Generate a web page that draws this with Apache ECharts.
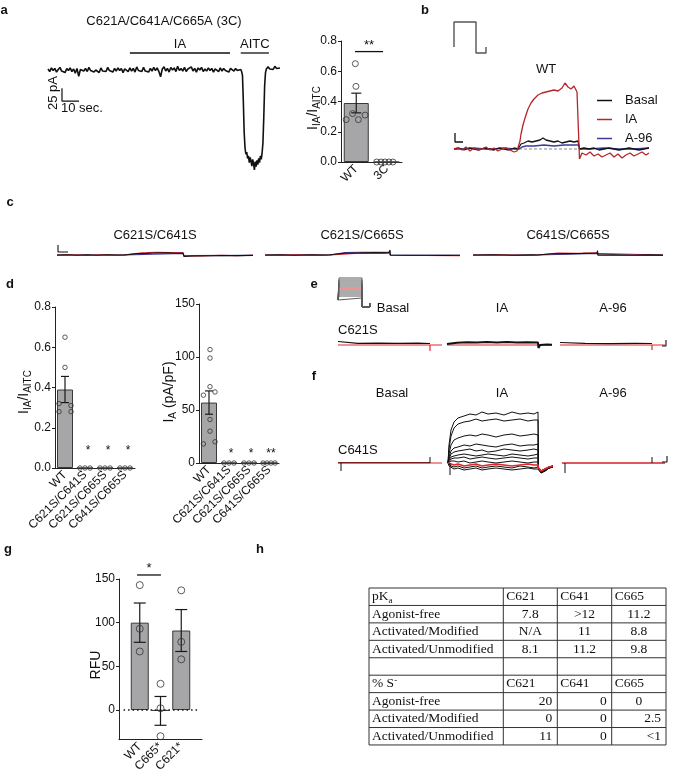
<!DOCTYPE html>
<html>
<head>
<meta charset="utf-8">
<script src="https://cdn.jsdelivr.net/npm/echarts@6/dist/echarts.min.js"></script>
<style>
  html, body { margin: 0; padding: 0; background: #fff; }
  #chart { width: 673px; height: 780px; }
</style>
</head>
<body>
<div id="chart"></div>
<script>
// ---------------- data ----------------
// a: 3C whole-cell trace (pA), baseline sampled every 1 s from t = 0
const aBaseline = [2,-3,4,-1,3,-4,1,5,-2,0,-5,3,-1,4,-3,2,-6,3,-12,1,
  4,-2,3,-3,5,-1,2,-4,0,3,-5,4,-2,1,-3,5,-1,2,-4,3,
  -2,4,-1,3,-5,2,0,-3,4,-2,3,-4,6,-1,2,-3,5,-2,1,-4,
  3,-2,5,-1,4,-3,-13,2,6,-2,3,-4,5,0,4,-3,7,-1,3,-2,
  5,-3,2,-1,6,-2,3,-4,4,0,5,-3,2,-2,4,-1,3,-4,2,1,
  -3,4,-2,3,-1,2,-4,3,0,-2,3,-1,2];
// AITC response [t (s), pA]
const aResponse = [[113,1],[113.5,-3],[114,-10],[114.5,-60],[115,-120],[115.5,-150],[116,-162],
  [116.5,-158],[117,-170],[117.5,-165],[118,-178],[118.5,-168],[119,-175],[119.5,-185],[120,-172],
  [120.5,-180],[121,-192],[121.5,-176],[122,-186],[122.5,-174],[123,-182],[123.5,-170],[124,-178],
  [124.5,-165],[125,-172],[125.5,-160],[126,-140],[126.5,-90],[127,-30],[127.5,-5],[128,2],[129,6],
  [130,2],[131,5],[132,1],[133,7],[134,3],[135,6],[136,4]];
const aStim = [
  {label: 'IA', from: 48, to: 106.7, level: 32.7},
  {label: 'AITC', from: 113, to: 129.5, level: 32.7}
];
const aScale = {t: 8.2, i: -60, dt: 10, di: 25};

// a: IA / AITC ratio
const ratioCats = ['WT', '3C'];
const ratioWT = [0.65, 0.50, 0.32, 0.28, 0.28, 0.31];
const ratio3C = [0, 0, 0, 0, 0];
const ratioMean = [0.39, 0];
const ratioSem = [0.065, 0];

// b: WT traces [t, current]
const bBasal = [[0,0],[5,1],[10,-1],[15,1],[20,0],[25,-1],[30,1],[35,0],[40,-1],[45,1],[50,0],[55,-1],
  [60,1],[64,0],[65,2],[67,5],[70,6],[74,8],[78,7],[82,8],[86,9],[89,11],[92,9],[96,8],[100,7],[104,8],
  [108,6],[112,7],[116,8],[120,7],[124,8],[125,7],[125.5,0],[130,1],[135,0],[140,1],[145,-1],[150,0],
  [155,1],[160,0],[165,-1],[170,0],[175,1],[180,0],[185,-1],[190,0],[195,1]];
const bIA = [[0,0],[4,1],[8,-1],[12,2],[16,-2],[20,1],[24,-1],[28,0],[32,2],[36,-1],[40,1],[44,-2],
  [48,0],[52,1],[56,-1],[60,-3],[63,-2],[65,0],[66,8],[67,15],[69,24],[71,31],[74,40],[77,46],[80,50],
  [84,54],[88,56],[92,57],[96,58],[100,59],[104,58],[108,61],[111,66],[114,62],[117,60],[120,63],
  [123,57],[125,55],[125.5,-10],[128,-4],[132,-6],[136,-3],[140,-7],[144,-5],[148,-8],[152,-6],
  [156,-4],[160,-8],[164,-5],[168,-9],[172,-6],[176,-4],[180,-7],[184,-5],[188,-3],[192,-6],[195,-4]];
const bA96 = [[0,0],[10,0],[20,1],[30,0],[40,0],[50,1],[60,0],[65,0],[68,2],[72,3],[80,3],[90,4],
  [100,3],[110,4],[120,4],[125,4],[125.5,0],[135,0],[150,1],[165,0],[180,0],[195,1]];
const bProtocol = [[0,6],[0,31],[22,31],[22,0],[32,0],[32,6]];

// c: double mutants
const cTraces = [
  {title: 'C621S/C641S',
   basal: [[0,0],[10,0.3],[20,-0.3],[30,0.2],[40,-0.2],[50,0.3],[60,0],[67,0],[67.5,1.3],[80,1.4],[90,1.6],[96,2],[110,2.2],[120,1.8],[126,2],[127,-1.5],[135,-1],[150,-0.7],[165,-0.5],[180,-0.6],[196,-0.4]],
   ia: [[0,-0.3],[15,0.2],[30,-0.4],[45,0.3],[60,-0.2],[67,0],[67.5,1.8],[85,2.2],[100,2.6],[115,2.4],[126,2.3],[127,-1],[145,-0.9],[165,-0.3],[180,-0.8],[196,-0.2]],
   a96: [[0,0],[67,0],[67.5,1.2],[126,1.6],[127,-0.6],[196,-0.4]]},
  {title: 'C621S/C665S',
   basal: [[0,0],[15,0.2],[30,-0.2],[45,0.3],[60,0],[65,0.2],[66,1.5],[80,1.8],[95,2],[110,2.4],[120,2.1],[124,2.5],[125,5],[125.5,0],[140,-0.3],[160,-0.2],[180,-0.4],[195,-0.3]],
   ia: [[0,-0.2],[30,0.1],[60,-0.3],[65,0],[66,1.2],[90,1.6],[124,2],[125.5,-0.5],[160,-0.5],[195,-0.6]],
   a96: [[0,0],[65,0],[66,2],[80,2.4],[95,2.6],[110,2.7],[124,2.6],[125.5,-0.2],[195,-0.2]]},
  {title: 'C641S/C665S',
   basal: [[0,0],[20,0.2],[40,-0.2],[60,0.1],[64,0],[64.5,-2],[65,1],[80,1.2],[95,1.4],[110,1.6],[120,1.8],[124,1.7],[124.5,4.5],[125,0],[140,0.2],[160,-0.2],[175,0.1],[190,-0.1]],
   ia: [[0,-0.3],[25,0.2],[50,-0.4],[64,0],[65,1.6],[85,1.9],[105,1.7],[124,2.2],[125,-0.3],[150,-0.4],[170,0.1],[190,-0.4]],
   a96: [[0,0],[64,0],[65,1],[124,1.5],[125,0],[190,0]]}
];

// d: double mutants summary
const dCats = ['WT', 'C621S/C641S', 'C621S/C665S', 'C641S/C665S'];
const dRatioPoints = [ratioWT, [0, 0, 0], [0, 0, 0], [0, 0, 0]];
const dRatioMean = [0.39, 0, 0, 0];
const dRatioSem = [0.065, 0, 0, 0];
const dRatioStars = ['', '*', '*', '*'];
const dDensityPoints = [[107, 99, 72, 64, 67, 41, 30, 18, 20], [0, 0, 0], [0, 0, 0], [0, 0, 0, 0]];
const dDensityMean = [57, 0, 0, 0];
const dDensitySem = [11, 0, 0, 0];
const dDensityStars = ['', '*', '*', '**'];

// e: C621S, voltage-step family
const eStepLevels = [10, 12, 14, 16, 18, 22, 24, 26, 28, 30];
const eStepRed = 20;
const eTraces = [
  {basal: [[0,2.5],[1,2.5],[1,0.6],[20,0.7],[40,0.9],[60,0.6],[80,0.8],[92,0.5]],
   red: [[0,-1],[92,-1],[92,-7],[92,-1],[104,-1]]},
  {basal: [[0,0],[1,1.5],[10,1.2],[20,1.8],[30,1.4],[40,2],[50,1.6],[60,1.9],[70,1.5],[80,1.7],[91,1.4],[91.5,-4],[93,-1],[100,-0.5],[105,-0.7]],
   red: [[0,-1],[91,-1],[91.5,-4],[92,-1],[105,-1]]},
  {basal: [[0,1.5],[1,0.5],[25,0.6],[50,0.4],[75,0.6],[92,0.5]],
   red: [[0,-1],[92,-1],[92,-6],[92,-1],[105,-1]]}
];

// f: C641S family under IA
const fTime = [0,1,3,6,10,16,22,28,34,40,48,56,64,72,80,86,90,90.5,93,97,101,105];
const fIAFamily = [
  [0,18,33,41,45,47,49,48,51,49,50,48,51,49,50,49,51,-6,-10,-8,-5,-4],
  [0,14,27,35,39,41,42,44,42,43,44,42,43,44,42,43,43,-6,-9,-8,-5,-4],
  [0,9,18,23,25,27,28,27,29,28,26,28,29,27,28,29,28,-6,-9,-7,-5,-3],
  [0,6,12,15,16,18,17,19,18,17,16,18,19,17,18,18,19,-5,-9,-7,-4,-3],
  [0,4,9,11,12,13,14,12,13,11,12,14,13,12,13,14,13,-5,-8,-7,-4,-3],
  [0,3,6,7,8,9,8,7,8,9,8,7,9,8,7,8,9,-5,-8,-6,-4,-3],
  [0,2,4,5,5,6,4,5,6,5,4,5,6,5,4,5,5,-5,-8,-6,-4,-3],
  [0,1,2,2,1,2,0,1,2,1,0,1,2,1,0,1,1,-5,-8,-6,-4,-3],
  [0,-2,-3,-4,-3,-5,-4,-3,-5,-4,-3,-4,-5,-3,-4,-5,-4,-6,-9,-7,-5,-4],
  [0,-3,-5,-6,-5,-7,-6,-5,-7,-6,-5,-6,-7,-6,-5,-6,-6,-7,-10,-8,-5,-4]
];
const fIARed = [0,-1,-1,-2,-1,-3,-2,-1,-3,-2,-1,-2,-3,-2,-1,-2,-2,-5,-8,-6,-4,-3];

// g: RFU
const gCats = ['', 'WT', 'C665*', 'C621*', ''];
const gPoints = [[143, 93, 67], [30, 2, -30], [137, 78, 58]];
const gMean = [100, -1, 91];
const gSem = [22.5, 16.5, 24];

// h: table
const hHeaders = ['C621', 'C641', 'C665'];
const hRows = ['Agonist-free', 'Activated/Modified', 'Activated/Unmodified'];
const hPKa = [['7.8', '>12', '11.2'], ['N/A', '11', '8.8'], ['8.1', '11.2', '9.8']];
const hThiolate = [['20', '0', '0'], ['0', '0', '2.5'], ['11', '0', '<1']];

// ---------------- layout helpers ----------------
const FONT = 'Liberation Sans, Arial, Helvetica, sans-serif';
const SERIF = 'Liberation Serif, Times New Roman, serif';
const RED = '#e3262a';
const grids = [], xAxes = [], yAxes = [], series = [], graphics = [];

function addGrid(left, top, width, height) {
  grids.push({left: left, top: top, width: width, height: height, containLabel: false, outerBoundsMode: 'none'});
  return grids.length - 1;
}
function traceAxes(gi, xr, yr) {
  const x = xAxes.push({gridIndex: gi, type: 'value', min: xr[0], max: xr[1], show: false}) - 1;
  const y = yAxes.push({gridIndex: gi, type: 'value', min: yr[0], max: yr[1], show: false}) - 1;
  return {x: x, y: y};
}
function line(ax, data, color, width, extra) {
  series.push(Object.assign({
    type: 'line', xAxisIndex: ax.x, yAxisIndex: ax.y, data: data, symbol: 'none',
    silent: true, clip: false, animation: false,
    lineStyle: {color: color, width: width}, itemStyle: {color: color}
  }, extra || {}));
}
function text(x, y, str, style, rotation) {
  graphics.push({type: 'text', x: x, y: y, rotation: rotation || 0, silent: true,
    style: Object.assign({text: str, fill: '#111', fontSize: 13, fontFamily: FONT,
      align: 'center', verticalAlign: 'middle'}, style || {})});
}
function errorBars(ax, data, cap) {
  series.push({type: 'custom', xAxisIndex: ax.x, yAxisIndex: ax.y, data: data,
    encode: {x: 0, y: [1, 2]}, silent: true, z: 4, animation: false,
    renderItem: function (params, api) {
      const lo = api.coord([api.value(0), api.value(1)]);
      const hi = api.coord([api.value(0), api.value(2)]);
      const st = {stroke: '#1a1a1a', lineWidth: 1.2};
      return {type: 'group', children: [
        {type: 'line', shape: {x1: lo[0], y1: lo[1], x2: hi[0], y2: hi[1]}, style: st},
        {type: 'line', shape: {x1: lo[0] - cap, y1: lo[1], x2: lo[0] + cap, y2: lo[1]}, style: st},
        {type: 'line', shape: {x1: hi[0] - cap, y1: hi[1], x2: hi[0] + cap, y2: hi[1]}, style: st}
      ]};
    }});
}
// items: {x1, x2, y, text, line, gap, size}
function marks(ax, items) {
  series.push({type: 'custom', xAxisIndex: ax.x, yAxisIndex: ax.y,
    data: items.map(function (d) { return [d.x1, d.x2, d.y]; }),
    encode: {x: [0, 1], y: 2}, silent: true, z: 5, animation: false,
    renderItem: function (params, api) {
      const it = items[params.dataIndex];
      const a = api.coord([api.value(0), api.value(2)]);
      const b = api.coord([api.value(1), api.value(2)]);
      const ch = [];
      if (it.line) ch.push({type: 'line', shape: {x1: a[0], y1: a[1], x2: b[0], y2: b[1]},
        style: {stroke: '#111', lineWidth: 1.3}});
      ch.push({type: 'text', x: (a[0] + b[0]) / 2, y: a[1] - (it.gap || 0),
        style: {text: it.text, fill: '#111', fontSize: it.size || 12, fontFamily: FONT,
          align: 'center', verticalAlign: 'middle'}});
      return {type: 'group', children: ch};
    }});
}
// summary bar chart with scattered points
function barPanel(cfg) {
  const gi = addGrid(cfg.left, cfg.top, cfg.width, cfg.height);
  const gap = cfg.boundaryGap !== false;
  const n = cfg.cats.length;
  const cx = xAxes.push({gridIndex: gi, type: 'category', data: cfg.cats, boundaryGap: gap,
    axisLine: {onZero: false, lineStyle: {color: '#222', width: 1}}, axisTick: {show: false},
    axisLabel: {rotate: 45, interval: 0, fontSize: 12, color: '#111', margin: 5, fontFamily: FONT}}) - 1;
  const vx = xAxes.push({gridIndex: gi, type: 'value', min: 0, max: gap ? n : n - 1, show: false}) - 1;
  const yAx = {gridIndex: gi, type: 'value', min: cfg.ymin, max: cfg.ymax,
    axisLine: {show: true, lineStyle: {color: '#222', width: 1}},
    axisTick: {show: true, length: 3, lineStyle: {color: '#222'}},
    axisLabel: {fontSize: 12, color: '#111', margin: 4, fontFamily: FONT, formatter: cfg.fmt},
    splitLine: {show: false}};
  if (cfg.interval) yAx.interval = cfg.interval;
  if (cfg.ticks) {
    yAx.axisLabel.customValues = cfg.ticks;
    yAx.axisTick.customValues = cfg.ticks;
  }
  const y = yAxes.push(yAx) - 1;
  const first = cfg.firstIndex || 0;
  const center = function (i) { return (gap ? i + 0.5 : i) + first; };
  const barData = cfg.cats.map(function () { return '-'; });
  cfg.means.forEach(function (m, i) { barData[i + first] = m; });
  series.push({type: 'bar', xAxisIndex: cx, yAxisIndex: y, data: barData, barWidth: cfg.barWidth,
    silent: true, animation: false, z: 2,
    itemStyle: {color: '#a6a6a8', borderColor: '#3a3a3a', borderWidth: 1}});
  const pts = [];
  cfg.points.forEach(function (grp, i) {
    grp.forEach(function (v, k) { pts.push([center(i) + cfg.jitter[i][k], v]); });
  });
  const ax = {x: vx, y: y};
  errorBars(ax, cfg.means.map(function (m, i) {
    return [center(i), m - cfg.sems[i], m + cfg.sems[i]];
  }).filter(function (d, i) { return cfg.sems[i] > 0; }), cfg.cap);
  series.push({type: 'scatter', xAxisIndex: vx, yAxisIndex: y, data: pts, symbol: 'circle',
    symbolSize: cfg.dot, silent: true, animation: false, z: 6, clip: false,
    itemStyle: {color: 'rgba(255,255,255,0)', borderColor: '#333', borderWidth: 1}});
  return {ax: ax, center: center};
}

// ---------------- panel a ----------------
const gA = addGrid(48, 28.4, 232, 145.6);
const axA = traceAxes(gA, [0, 136], [-200, 80]);
line(axA, aBaseline.map(function (v, i) { return [i, v]; }).concat(aResponse), '#111', 1.6);
marks(axA, aStim.map(function (s) {
  return {x1: s.from, x2: s.to, y: s.level, text: s.label, line: true, gap: 9, size: 13};
}));
line(axA, [[aScale.t, aScale.i + aScale.di], [aScale.t, aScale.i], [aScale.t + aScale.dt, aScale.i]], '#111', 1.2);
text(164, 21, 'C621A/C641A/C665A (3C)');
text(53, 93, '25 pA', {}, Math.PI / 2);
text(61, 108, '10 sec.', {align: 'left'});

const ratioPanel = barPanel({left: 341, top: 41, width: 61, height: 121, cats: ratioCats,
  means: ratioMean, sems: ratioSem, points: [ratioWT, ratio3C],
  jitter: [[-0.03, -0.01, -0.12, -0.33, 0.07, 0.29], [-0.33, -0.19, -0.06, 0.07, 0.2]],
  ymin: 0, ymax: 0.8, interval: 0.2, fmt: function (v) { return v.toFixed(1); },
  barWidth: 25, cap: 5, dot: 6});
marks(ratioPanel.ax, [{x1: 0.46, x2: 1.38, y: 0.73, text: '**', line: true, gap: 6, size: 13}]);

// ---------------- panel b ----------------
const gB = addGrid(454, 69, 195, 100);
const axB = traceAxes(gB, [0, 195], [-20, 80]);
line(axB, [[65, 0], [125, 0]], '#888', 1, {lineStyle: {color: '#888', width: 1, type: [3, 2]}});
line(axB, bA96, '#3b3b9c', 1.3, {name: 'A-96'});
line(axB, bBasal, '#111', 1.3, {name: 'Basal'});
line(axB, bIA, '#b5262b', 1.3, {name: 'IA'});
line(axB, [[1, 16], [1, 7], [9, 7]], '#111', 1.3);
const gBp = addGrid(454, 22, 34, 31);
const axBp = traceAxes(gBp, [0, 34], [0, 31]);
line(axBp, bProtocol, '#555', 1.4);
text(546, 69, 'WT');

// ---------------- panel c ----------------
const cLeft = [57, 265, 473];
const cMid = [155, 362, 568];
cTraces.forEach(function (tr, i) {
  const gi = addGrid(cLeft[i], 245, 196, 20);
  const ax = traceAxes(gi, [0, 196], [-10, 10]);
  line(ax, tr.a96, '#3b3b9c', 1.1);
  line(ax, tr.ia, RED, 1.1);
  line(ax, tr.basal, '#111', 1.1);
  if (i === 0) line(ax, [[1, 10], [1, 3], [11, 3]], '#111', 1.1);
  text(cMid[i], 235, tr.title);
});

// ---------------- panel d ----------------
const dJitterRatio = [[0, 0, -0.3, -0.3, 0.3, 0.3], [-0.25, 0, 0.25], [-0.25, 0, 0.25], [-0.25, 0, 0.25]];
const dRatio = barPanel({left: 55, top: 307, width: 80, height: 161, cats: dCats,
  means: dRatioMean, sems: dRatioSem, points: dRatioPoints, jitter: dJitterRatio,
  ymin: 0, ymax: 0.8, interval: 0.2, fmt: function (v) { return v.toFixed(1); },
  barWidth: 16, cap: 4, dot: 4.5});
marks(dRatio.ax, dRatioStars.map(function (s, i) {
  return {x1: dRatio.center(i) + 0.15, x2: dRatio.center(i) + 0.15, y: 0.085, text: s, size: 12};
}).filter(function (d) { return d.text; }));

const dJitterDensity = [[0.05, 0.05, 0.05, -0.28, 0.3, 0.05, 0.05, -0.28, 0.3],
  [-0.25, 0, 0.25], [-0.25, 0, 0.25], [-0.3, -0.1, 0.1, 0.3]];
const dDensity = barPanel({left: 199, top: 304, width: 80, height: 159, cats: dCats,
  means: dDensityMean, sems: dDensitySem, points: dDensityPoints, jitter: dJitterDensity,
  ymin: 0, ymax: 150, interval: 50, barWidth: 16, cap: 4, dot: 4.5});
marks(dDensity.ax, dDensityStars.map(function (s, i) {
  return {x1: dDensity.center(i) + 0.1, x2: dDensity.center(i) + 0.1, y: 9, text: s, size: 12};
}).filter(function (d) { return d.text; }));

// ---------------- panel e ----------------
const gEp = addGrid(338, 276, 34, 32);
const axEp = traceAxes(gEp, [0, 34], [0, 32]);
line(axEp, [[1, eStepRed], [24, eStepRed]], RED, 1.2);
eStepLevels.forEach(function (L) {
  line(axEp, [[0, 8], [1, 8], [1, L], [24, L], [24, 1], [32, 1], [32, 5]], '#5a5a5a', 1);
});
const eLeft = [338, 447, 560];
eTraces.forEach(function (tr, i) {
  const gi = addGrid(eLeft[i], 334, 108, 20);
  const ax = traceAxes(gi, [0, 108], [-10, 10]);
  line(ax, tr.red, RED, 1.2);
  line(ax, tr.basal, '#111', i === 1 ? 2 : 1.2);
  if (i === 2) line(ax, [[102, -2], [106, -2], [106, 4]], '#111', 1.1);
});
['Basal', 'IA', 'A-96'].forEach(function (s, i) {
  text([393, 502, 613][i], 308, s);
  text([392, 502, 613][i], 393, s);
});
text(338, 330, 'C621S', {align: 'left'});
text(338, 450, 'C641S', {align: 'left'});

// ---------------- panel f ----------------
const fLeft = [338, 448, 562];
const fAx = fLeft.map(function (l) {
  return traceAxes(addGrid(l, 403, 108, 75), [0, 108], [-15, 60]);
});
line(fAx[0], [[0, 0.3], [92, 0.3]], '#111', 1.2);
line(fAx[0], [[0, 0], [104, 0]], RED, 1.2);
line(fAx[0], [[3, 0], [3, -8]], '#111', 1);
line(fAx[0], [[92, 0], [92, 6]], '#111', 1);
fIAFamily.forEach(function (vals) {
  line(fAx[1], fTime.map(function (t, k) { return [t, vals[k]]; }), '#111', 1);
});
line(fAx[1], fTime.map(function (t, k) { return [t, fIARed[k]]; }), RED, 1.6);
line(fAx[1], [[2, 0], [2, -12]], '#111', 1);
line(fAx[2], [[0, 0], [103, 0]], '#d42226', 1.3);
line(fAx[2], [[3, 0], [3, -10]], '#111', 1);
line(fAx[2], [[90, 0], [90, 6]], '#111', 1);
line(fAx[2], [[100, 1], [105, 1], [105, 7]], '#111', 1.1);

// ---------------- panel g ----------------
const gRFU = barPanel({left: 119, top: 579, width: 83, height: 160.7, cats: gCats,
  boundaryGap: false, firstIndex: 1, means: gMean, sems: gSem, points: gPoints,
  jitter: [[0, 0, 0], [0, 0, 0], [0, 0, 0]], ymin: -34, ymax: 150, ticks: [0, 50, 100, 150],
  barWidth: 18, cap: 6, dot: 7});
line(gRFU.ax, [[0.22, 0], [3.84, 0]], '#111', 1.5, {lineStyle: {color: '#111', width: 1.5, type: [1.5, 3]}, z: 5});
marks(gRFU.ax, [{x1: 0.87, x2: 2.02, y: 154.6, text: '*', line: true, gap: 7, size: 13}]);

// ---------------- axis titles ----------------
const subRich = {
  n: {fontSize: 14, fontFamily: FONT, fill: '#111', lineHeight: 18},
  s: {fontSize: 10, fontFamily: FONT, fill: '#111', lineHeight: 10, verticalAlign: 'bottom'}
};
text(313, 108, '{n|I}{s|IA}{n|/I}{s|AITC}', {rich: subRich}, Math.PI / 2);
text(24, 392, '{n|I}{s|IA}{n|/I}{s|AITC}', {rich: subRich}, Math.PI / 2);
text(169, 392, '{n|I}{s|A}{n| (pA/pF)}', {rich: subRich}, Math.PI / 2);
text(96, 665, 'RFU', {fontSize: 14}, Math.PI / 2);

// ---------------- panel letters ----------------
[['a', 4, 10], ['b', 425, 10], ['c', 10, 202], ['d', 10, 284], ['e', 314, 284],
 ['f', 314, 376], ['g', 8, 549], ['h', 260, 549]].forEach(function (p) {
  text(p[1], p[2], p[0], {fontWeight: 'bold', fontSize: 13});
});

// ---------------- panel h table ----------------
const tL = 369, tT = 588, rowH = 17.44, colX = [369, 503.3, 557.3, 611.7, 666];
const tB = tT + rowH * 9;
graphics.push({type: 'rect', shape: {x: tL, y: tT, width: colX[4] - tL, height: tB - tT},
  style: {fill: 'none', stroke: '#333', lineWidth: 1}, silent: true});
for (let r = 1; r < 9; r++) {
  graphics.push({type: 'line', shape: {x1: tL, y1: tT + r * rowH, x2: colX[4], y2: tT + r * rowH},
    style: {stroke: '#333', lineWidth: 1}, silent: true});
}
for (let c = 1; c < 4; c++) {
  graphics.push({type: 'line', shape: {x1: colX[c], y1: tT, x2: colX[c], y2: tB},
    style: {stroke: '#333', lineWidth: 1}, silent: true});
}
const serif = {fontFamily: SERIF, fontSize: 13.5, align: 'left'};
const serifRich = {
  n: {fontFamily: SERIF, fontSize: 13.5, fill: '#111', lineHeight: 16},
  s: {fontFamily: SERIF, fontSize: 9, fill: '#111', lineHeight: 9, verticalAlign: 'bottom'},
  p: {fontFamily: SERIF, fontSize: 9, fill: '#111', lineHeight: 9, verticalAlign: 'top'}
};
const rowY = function (r) { return tT + (r + 0.5) * rowH; };
text(372, rowY(0), '{n|pK}{s|a}', {rich: serifRich, align: 'left'});
text(372, rowY(5), '{n|% S}{p|-}', {rich: serifRich, align: 'left'});
hHeaders.forEach(function (h, c) {
  text(colX[c + 1] + 3, rowY(0), h, serif);
  text(colX[c + 1] + 3, rowY(5), h, serif);
});
hRows.forEach(function (name, r) {
  text(372, rowY(r + 1), name, serif);
  text(372, rowY(r + 6), name, serif);
  hPKa[r].forEach(function (v, c) {
    text((colX[c + 1] + colX[c + 2]) / 2, rowY(r + 1), v, {fontFamily: SERIF, fontSize: 13.5});
  });
  hThiolate[r].forEach(function (v, c) {
    if (r === 0 && c === 2) {
      text((colX[c + 1] + colX[c + 2]) / 2, rowY(r + 6), v, {fontFamily: SERIF, fontSize: 13.5});
    } else {
      text(colX[c + 2] - 5, rowY(r + 6), v, {fontFamily: SERIF, fontSize: 13.5, align: 'right'});
    }
  });
});

// ---------------- chart ----------------
const chart = echarts.init(document.getElementById('chart'));
chart.setOption({
  animation: false,
  backgroundColor: '#fff',
  textStyle: {fontFamily: FONT},
  legend: {data: [{name: 'Basal', icon: 'rect'}, {name: 'IA', icon: 'rect'}, {name: 'A-96', icon: 'rect'}],
    orient: 'vertical', left: 592, top: 88,
    itemWidth: 15, itemHeight: 1.5, itemGap: 4, selectedMode: false,
    textStyle: {fontSize: 13, color: '#111', lineHeight: 15, padding: [0, 0, 0, 8]}},
  grid: grids,
  xAxis: xAxes,
  yAxis: yAxes,
  series: series,
  graphic: {elements: graphics}
});
</script>
</body>
</html>
